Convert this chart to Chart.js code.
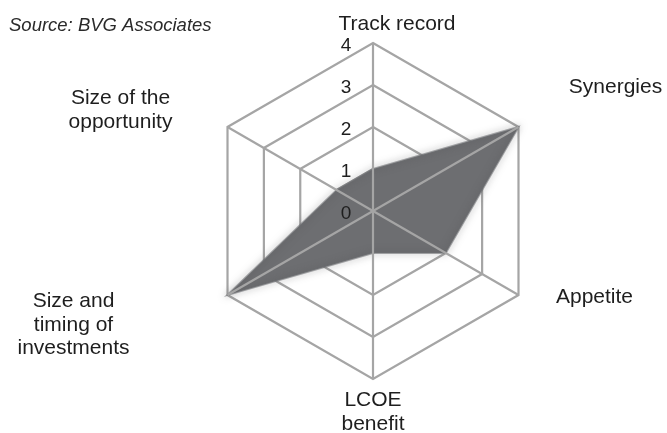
<!DOCTYPE html>
<html>
<head>
<meta charset="utf-8">
<script src="https://cdn.jsdelivr.net/npm/chart.js@4.4.0/dist/chart.umd.min.js"></script>
<style>
  html, body { margin: 0; padding: 0; background: #fff; }
  #wrap { width: 667px; height: 433px; position: relative; }
</style>
</head>
<body>
<div id="wrap"><canvas id="radar"></canvas></div>
<script>
// Chart data ----- START
const categories = [
    ['Track record'],
    ['Synergies'],
    ['Appetite'],
    ['LCOE', 'benefit'],
    ['Size and', 'timing of', 'investments'],
    ['Size of the', 'opportunity']
];
const scores = [1, 4, 2, 1, 4, 1];
const tickValues = [0, 1, 2, 3, 4];
const sourceText = 'Source: BVG Associates';
// Chart data ----- END

// where each category label sits, relative to the outer corner of its axis
const labelOffsets = [[24, -19], [97, -40], [76, 2], [0, 33], [-154, 30], [-107, -17]];
const FONT = '"Liberation Sans", Arial, sans-serif';
const gridColor = '#a5a5a5';

//Draws the source note, tick numbers, category labels and the spokes (spokes go over the fill)
const overlayPlugin = {
    id: 'overlay',
    afterDatasetsDraw(chart) {
        const ctx = chart.ctx;
        const scale = chart.scales.r;
        ctx.save();

        //spokes on top of the grey area
        ctx.strokeStyle = gridColor;
        ctx.lineWidth = 2.2;
        for (let i = 0; i < categories.length; i++) {
            const p = scale.getPointPosition(i, scale.drawingArea);
            ctx.beginPath();
            ctx.moveTo(scale.xCenter, scale.yCenter);
            ctx.lineTo(p.x, p.y);
            ctx.stroke();
        }

        //tick numbers, left of the top spoke
        ctx.fillStyle = '#1e1e1e';
        ctx.font = '19px ' + FONT;
        ctx.textAlign = 'center';
        ctx.textBaseline = 'middle';
        tickValues.forEach(v => {
            const d = scale.getDistanceFromCenterForValue(v);
            ctx.fillText(String(v), scale.xCenter - 27, scale.yCenter - d + 3);
        });

        //category labels
        ctx.font = '21px ' + FONT;
        const lineH = 23.5;
        categories.forEach((lines, i) => {
            const p = scale.getPointPosition(i, scale.drawingArea);
            const cx = p.x + labelOffsets[i][0];
            const cy = p.y + labelOffsets[i][1];
            const top = cy - (lines.length - 1) * lineH / 2;
            lines.forEach((t, j) => ctx.fillText(t, cx, top + j * lineH));
        });

        //source note
        ctx.font = 'italic 18.5px ' + FONT;
        ctx.textAlign = 'left';
        ctx.fillStyle = '#2a2a2a';
        ctx.fillText(sourceText, 9, 26);
        ctx.restore();
    }
};

//Soft edge on the filled shape
const shadowPlugin = {
    id: 'softFill',
    beforeDatasetDraw(chart) {
        const ctx = chart.ctx;
        ctx.save();
        ctx.shadowColor = 'rgba(80, 80, 82, 0.9)';
        ctx.shadowBlur = 7;
    },
    afterDatasetDraw(chart) {
        chart.ctx.restore();
    }
};

const radarElement = document.getElementById('radar').getContext('2d');
const radarChart = new Chart(radarElement, {
    type: 'radar',
    data: {
        labels: categories,
        datasets: [{
            label: 'Score',
            data: scores,
            backgroundColor: '#6d6e71',
            borderColor: 'rgba(109, 110, 113, 0.6)',
            borderWidth: 2,
            pointRadius: 0,
            fill: true
        }]
    },
    options: {
        responsive: true,
        maintainAspectRatio: false,
        animation: false,
        layout: {
            padding: { left: 205, right: 126, top: 43, bottom: 54 }
        },
        plugins: {
            legend: { display: false },
            tooltip: { enabled: false }
        },
        scales: {
            r: {
                min: 0,
                max: 4,
                ticks: { stepSize: 1, display: false },
                grid: { color: gridColor, lineWidth: 2.2, circular: false },
                angleLines: { display: false },
                pointLabels: { display: false }
            }
        }
    },
    plugins: [shadowPlugin, overlayPlugin]
});
</script>
</body>
</html>
